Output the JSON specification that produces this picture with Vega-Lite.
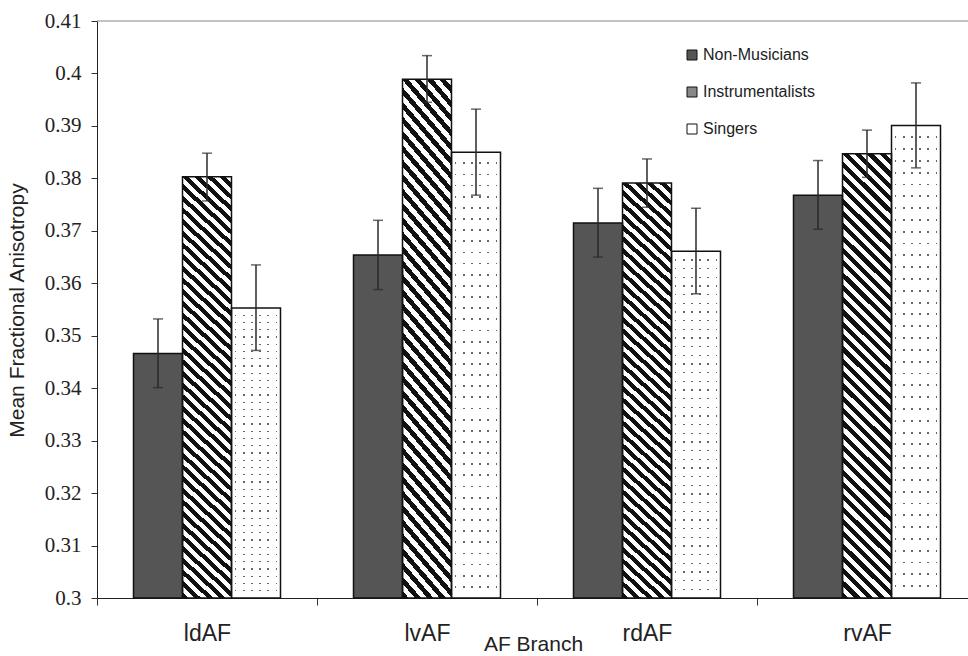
{
  "$schema": "https://vega.github.io/schema/vega-lite/v6.json",
  "width": 871,
  "height": 577,
  "autosize": {"type": "none"},
  "padding": {"left": 97, "top": 21, "right": 0, "bottom": 58},
  "background": "white",
  "config": {"view": {"stroke": null}, "axis": {"grid": false}},
  "data": {
    "values": [
      {"branch": "ldAF", "group": "Non-Musicians", "fa": 0.3466, "lo": 0.3401, "hi": 0.3532},
      {"branch": "ldAF", "group": "Instrumentalists", "fa": 0.3803, "lo": 0.3757, "hi": 0.3848},
      {"branch": "ldAF", "group": "Singers", "fa": 0.3553, "lo": 0.3472, "hi": 0.3635},
      {"branch": "lvAF", "group": "Non-Musicians", "fa": 0.3654, "lo": 0.3588, "hi": 0.3720},
      {"branch": "lvAF", "group": "Instrumentalists", "fa": 0.3989, "lo": 0.3945, "hi": 0.4034},
      {"branch": "lvAF", "group": "Singers", "fa": 0.3850, "lo": 0.3768, "hi": 0.3932},
      {"branch": "rdAF", "group": "Non-Musicians", "fa": 0.3715, "lo": 0.3650, "hi": 0.3781},
      {"branch": "rdAF", "group": "Instrumentalists", "fa": 0.3791, "lo": 0.3745, "hi": 0.3837},
      {"branch": "rdAF", "group": "Singers", "fa": 0.3661, "lo": 0.3580, "hi": 0.3743},
      {"branch": "rvAF", "group": "Non-Musicians", "fa": 0.3768, "lo": 0.3703, "hi": 0.3834},
      {"branch": "rvAF", "group": "Instrumentalists", "fa": 0.3847, "lo": 0.3802, "hi": 0.3892},
      {"branch": "rvAF", "group": "Singers", "fa": 0.3901, "lo": 0.3820, "hi": 0.3982}
    ]
  },
  "layer": [
    {
      "mark": {"type": "bar", "strokeWidth": 0},
      "encoding": {
        "x": {
          "field": "branch", "type": "nominal", "sort": ["ldAF", "lvAF", "rdAF", "rvAF"],
          "scale": {"type": "band", "range": [0, 880], "paddingInner": 0, "paddingOuter": 0},
          "axis": {
            "title": "AF Branch", "labelAngle": 0, "labelFont": "Liberation Sans", "labelFontSize": 23,
            "labelColor": "#222", "labelPadding": 17, "tickSize": 7, "tickColor": "#333", "tickBand": "extent",
            "domainColor": "#222", "titleFont": "Liberation Sans", "titleFontSize": 21, "titleFontWeight": "normal",
            "titleColor": "#222", "titleBaseline": "alphabetic", "titleY": 52, "titleX": 436
          }
        },
        "xOffset": {
          "field": "group", "type": "nominal",
          "scale": {"domain": ["Non-Musicians", "Instrumentalists", "Singers"], "paddingInner": 0, "paddingOuter": 0.745}
        },
        "y": {
          "field": "fa", "type": "quantitative",
          "scale": {"domain": [0.3, 0.41], "nice": false, "zero": false},
          "axis": {
            "title": "Mean Fractional Anisotropy",
            "values": [0.3, 0.31, 0.32, 0.33, 0.34, 0.35, 0.36, 0.37, 0.38, 0.39, 0.4, 0.41],
            "format": ".2~f", "labelFont": "Liberation Serif", "labelFontSize": 21, "labelColor": "#222",
            "labelPadding": 10, "tickSize": 6, "tickColor": "#333", "domainColor": "#222",
            "titleFont": "Liberation Sans", "titleFontSize": 21, "titleFontWeight": "normal", "titleColor": "#222",
            "titleX": -80, "titleY": 289, "titleBaseline": "middle", "titleAngle": -90
          }
        },
        "y2": {"datum": 0.3},
        "fill": {
          "field": "group", "type": "nominal",
          "scale": {
            "domain": ["Non-Musicians", "Instrumentalists", "Singers"],
            "range": ["#555555", "#888888", "#ffffff"]
          },
          "legend": {
            "title": null, "orient": "none", "legendX": 587, "legendY": 26, "symbolType": "square", "symbolSize": 100,
            "symbolStrokeColor": "#111", "symbolStrokeWidth": 1, "labelFont": "Liberation Sans", "labelFontSize": 16,
            "labelColor": "#222", "labelOffset": 3, "rowPadding": 21, "padding": 0,
            "encode": {"symbols": {"update": {"stroke": {"value": "#111"}, "strokeWidth": {"value": 1}}}}
          }
        }
      }
    },
    {
      "transform": [{"filter": "datum.group === 'Instrumentalists'"}],
      "mark": {
        "type": "bar", "strokeWidth": 0,
        "fill": {"gradient": "linear", "x1": 0, "y1": 1, "x2": 0.12, "y2": -0.096, "stops": [
          {"offset": 0, "color": "#111"}, {"offset": 0.0125, "color": "#111"}, {"offset": 0.0125, "color": "#fff"}, {"offset": 0.025, "color": "#fff"},
          {"offset": 0.025, "color": "#111"}, {"offset": 0.0375, "color": "#111"}, {"offset": 0.0375, "color": "#fff"}, {"offset": 0.05, "color": "#fff"},
          {"offset": 0.05, "color": "#111"}, {"offset": 0.0625, "color": "#111"}, {"offset": 0.0625, "color": "#fff"}, {"offset": 0.075, "color": "#fff"},
          {"offset": 0.075, "color": "#111"}, {"offset": 0.0875, "color": "#111"}, {"offset": 0.0875, "color": "#fff"}, {"offset": 0.1, "color": "#fff"},
          {"offset": 0.1, "color": "#111"}, {"offset": 0.1125, "color": "#111"}, {"offset": 0.1125, "color": "#fff"}, {"offset": 0.125, "color": "#fff"},
          {"offset": 0.125, "color": "#111"}, {"offset": 0.1375, "color": "#111"}, {"offset": 0.1375, "color": "#fff"}, {"offset": 0.15, "color": "#fff"},
          {"offset": 0.15, "color": "#111"}, {"offset": 0.1625, "color": "#111"}, {"offset": 0.1625, "color": "#fff"}, {"offset": 0.175, "color": "#fff"},
          {"offset": 0.175, "color": "#111"}, {"offset": 0.1875, "color": "#111"}, {"offset": 0.1875, "color": "#fff"}, {"offset": 0.2, "color": "#fff"},
          {"offset": 0.2, "color": "#111"}, {"offset": 0.2125, "color": "#111"}, {"offset": 0.2125, "color": "#fff"}, {"offset": 0.225, "color": "#fff"},
          {"offset": 0.225, "color": "#111"}, {"offset": 0.2375, "color": "#111"}, {"offset": 0.2375, "color": "#fff"}, {"offset": 0.25, "color": "#fff"},
          {"offset": 0.25, "color": "#111"}, {"offset": 0.2625, "color": "#111"}, {"offset": 0.2625, "color": "#fff"}, {"offset": 0.275, "color": "#fff"},
          {"offset": 0.275, "color": "#111"}, {"offset": 0.2875, "color": "#111"}, {"offset": 0.2875, "color": "#fff"}, {"offset": 0.3, "color": "#fff"},
          {"offset": 0.3, "color": "#111"}, {"offset": 0.3125, "color": "#111"}, {"offset": 0.3125, "color": "#fff"}, {"offset": 0.325, "color": "#fff"},
          {"offset": 0.325, "color": "#111"}, {"offset": 0.3375, "color": "#111"}, {"offset": 0.3375, "color": "#fff"}, {"offset": 0.35, "color": "#fff"},
          {"offset": 0.35, "color": "#111"}, {"offset": 0.3625, "color": "#111"}, {"offset": 0.3625, "color": "#fff"}, {"offset": 0.375, "color": "#fff"},
          {"offset": 0.375, "color": "#111"}, {"offset": 0.3875, "color": "#111"}, {"offset": 0.3875, "color": "#fff"}, {"offset": 0.4, "color": "#fff"},
          {"offset": 0.4, "color": "#111"}, {"offset": 0.4125, "color": "#111"}, {"offset": 0.4125, "color": "#fff"}, {"offset": 0.425, "color": "#fff"},
          {"offset": 0.425, "color": "#111"}, {"offset": 0.4375, "color": "#111"}, {"offset": 0.4375, "color": "#fff"}, {"offset": 0.45, "color": "#fff"},
          {"offset": 0.45, "color": "#111"}, {"offset": 0.4625, "color": "#111"}, {"offset": 0.4625, "color": "#fff"}, {"offset": 0.475, "color": "#fff"},
          {"offset": 0.475, "color": "#111"}, {"offset": 0.4875, "color": "#111"}, {"offset": 0.4875, "color": "#fff"}, {"offset": 0.5, "color": "#fff"},
          {"offset": 0.5, "color": "#111"}, {"offset": 0.5125, "color": "#111"}, {"offset": 0.5125, "color": "#fff"}, {"offset": 0.525, "color": "#fff"},
          {"offset": 0.525, "color": "#111"}, {"offset": 0.5375, "color": "#111"}, {"offset": 0.5375, "color": "#fff"}, {"offset": 0.55, "color": "#fff"},
          {"offset": 0.55, "color": "#111"}, {"offset": 0.5625, "color": "#111"}, {"offset": 0.5625, "color": "#fff"}, {"offset": 0.575, "color": "#fff"},
          {"offset": 0.575, "color": "#111"}, {"offset": 0.5875, "color": "#111"}, {"offset": 0.5875, "color": "#fff"}, {"offset": 0.6, "color": "#fff"},
          {"offset": 0.6, "color": "#111"}, {"offset": 0.6125, "color": "#111"}, {"offset": 0.6125, "color": "#fff"}, {"offset": 0.625, "color": "#fff"},
          {"offset": 0.625, "color": "#111"}, {"offset": 0.6375, "color": "#111"}, {"offset": 0.6375, "color": "#fff"}, {"offset": 0.65, "color": "#fff"},
          {"offset": 0.65, "color": "#111"}, {"offset": 0.6625, "color": "#111"}, {"offset": 0.6625, "color": "#fff"}, {"offset": 0.675, "color": "#fff"},
          {"offset": 0.675, "color": "#111"}, {"offset": 0.6875, "color": "#111"}, {"offset": 0.6875, "color": "#fff"}, {"offset": 0.7, "color": "#fff"},
          {"offset": 0.7, "color": "#111"}, {"offset": 0.7125, "color": "#111"}, {"offset": 0.7125, "color": "#fff"}, {"offset": 0.725, "color": "#fff"},
          {"offset": 0.725, "color": "#111"}, {"offset": 0.7375, "color": "#111"}, {"offset": 0.7375, "color": "#fff"}, {"offset": 0.75, "color": "#fff"},
          {"offset": 0.75, "color": "#111"}, {"offset": 0.7625, "color": "#111"}, {"offset": 0.7625, "color": "#fff"}, {"offset": 0.775, "color": "#fff"},
          {"offset": 0.775, "color": "#111"}, {"offset": 0.7875, "color": "#111"}, {"offset": 0.7875, "color": "#fff"}, {"offset": 0.8, "color": "#fff"},
          {"offset": 0.8, "color": "#111"}, {"offset": 0.8125, "color": "#111"}, {"offset": 0.8125, "color": "#fff"}, {"offset": 0.825, "color": "#fff"},
          {"offset": 0.825, "color": "#111"}, {"offset": 0.8375, "color": "#111"}, {"offset": 0.8375, "color": "#fff"}, {"offset": 0.85, "color": "#fff"},
          {"offset": 0.85, "color": "#111"}, {"offset": 0.8625, "color": "#111"}, {"offset": 0.8625, "color": "#fff"}, {"offset": 0.875, "color": "#fff"},
          {"offset": 0.875, "color": "#111"}, {"offset": 0.8875, "color": "#111"}, {"offset": 0.8875, "color": "#fff"}, {"offset": 0.9, "color": "#fff"},
          {"offset": 0.9, "color": "#111"}, {"offset": 0.9125, "color": "#111"}, {"offset": 0.9125, "color": "#fff"}, {"offset": 0.925, "color": "#fff"},
          {"offset": 0.925, "color": "#111"}, {"offset": 0.9375, "color": "#111"}, {"offset": 0.9375, "color": "#fff"}, {"offset": 0.95, "color": "#fff"},
          {"offset": 0.95, "color": "#111"}, {"offset": 0.9625, "color": "#111"}, {"offset": 0.9625, "color": "#fff"}, {"offset": 0.975, "color": "#fff"},
          {"offset": 0.975, "color": "#111"}, {"offset": 0.9875, "color": "#111"}, {"offset": 0.9875, "color": "#fff"}, {"offset": 1, "color": "#fff"}
        ]}
      },
      "encoding": {
        "x": {"field": "branch", "type": "nominal", "sort": ["ldAF", "lvAF", "rdAF", "rvAF"]},
        "xOffset": {"field": "group", "type": "nominal", "scale": {"domain": ["Non-Musicians", "Instrumentalists", "Singers"]}},
        "y": {"field": "fa", "type": "quantitative"},
        "y2": {"datum": 0.3}
      }
    },
    {
      "transform": [{"filter": "datum.group === 'Singers'"}],
      "mark": {
        "type": "bar", "strokeWidth": 0,
        "fill": {"gradient": "linear", "x1": 0, "y1": 0, "x2": 1, "y2": 0, "stops": [
          {"offset": 0, "color": "#fff"},
          {"offset": 0.067, "color": "#fff"}, {"offset": 0.067, "color": "#666"}, {"offset": 0.1, "color": "#666"}, {"offset": 0.1, "color": "#fff"},
          {"offset": 0.234, "color": "#fff"}, {"offset": 0.234, "color": "#666"}, {"offset": 0.266, "color": "#666"}, {"offset": 0.266, "color": "#fff"},
          {"offset": 0.401, "color": "#fff"}, {"offset": 0.401, "color": "#666"}, {"offset": 0.433, "color": "#666"}, {"offset": 0.433, "color": "#fff"},
          {"offset": 0.567, "color": "#fff"}, {"offset": 0.567, "color": "#666"}, {"offset": 0.599, "color": "#666"}, {"offset": 0.599, "color": "#fff"},
          {"offset": 0.734, "color": "#fff"}, {"offset": 0.734, "color": "#666"}, {"offset": 0.766, "color": "#666"}, {"offset": 0.766, "color": "#fff"},
          {"offset": 0.901, "color": "#fff"}, {"offset": 0.901, "color": "#666"}, {"offset": 0.933, "color": "#666"}, {"offset": 0.933, "color": "#fff"},
          {"offset": 1, "color": "#fff"}
        ]}
      },
      "encoding": {
        "x": {"field": "branch", "type": "nominal", "sort": ["ldAF", "lvAF", "rdAF", "rvAF"]},
        "xOffset": {"field": "group", "type": "nominal", "scale": {"domain": ["Non-Musicians", "Instrumentalists", "Singers"]}},
        "y": {"field": "fa", "type": "quantitative"},
        "y2": {"datum": 0.3}
      }
    },
    {
      "transform": [{"filter": "datum.group === 'Singers'"}],
      "mark": {
        "type": "bar", "strokeWidth": 0,
        "fill": {"gradient": "linear", "x1": 0, "y1": 0, "x2": 0, "y2": 1, "stops": [
          {"offset": 0, "color": "#fff"},
          {"offset": 0.023, "color": "#fff"}, {"offset": 0.023, "color": "rgba(255,255,255,0)"}, {"offset": 0.027, "color": "rgba(255,255,255,0)"}, {"offset": 0.027, "color": "#fff"},
          {"offset": 0.048, "color": "#fff"}, {"offset": 0.048, "color": "rgba(255,255,255,0)"}, {"offset": 0.052, "color": "rgba(255,255,255,0)"}, {"offset": 0.052, "color": "#fff"},
          {"offset": 0.073, "color": "#fff"}, {"offset": 0.073, "color": "rgba(255,255,255,0)"}, {"offset": 0.077, "color": "rgba(255,255,255,0)"}, {"offset": 0.077, "color": "#fff"},
          {"offset": 0.098, "color": "#fff"}, {"offset": 0.098, "color": "rgba(255,255,255,0)"}, {"offset": 0.102, "color": "rgba(255,255,255,0)"}, {"offset": 0.102, "color": "#fff"},
          {"offset": 0.123, "color": "#fff"}, {"offset": 0.123, "color": "rgba(255,255,255,0)"}, {"offset": 0.127, "color": "rgba(255,255,255,0)"}, {"offset": 0.127, "color": "#fff"},
          {"offset": 0.148, "color": "#fff"}, {"offset": 0.148, "color": "rgba(255,255,255,0)"}, {"offset": 0.152, "color": "rgba(255,255,255,0)"}, {"offset": 0.152, "color": "#fff"},
          {"offset": 0.173, "color": "#fff"}, {"offset": 0.173, "color": "rgba(255,255,255,0)"}, {"offset": 0.177, "color": "rgba(255,255,255,0)"}, {"offset": 0.177, "color": "#fff"},
          {"offset": 0.198, "color": "#fff"}, {"offset": 0.198, "color": "rgba(255,255,255,0)"}, {"offset": 0.202, "color": "rgba(255,255,255,0)"}, {"offset": 0.202, "color": "#fff"},
          {"offset": 0.223, "color": "#fff"}, {"offset": 0.223, "color": "rgba(255,255,255,0)"}, {"offset": 0.227, "color": "rgba(255,255,255,0)"}, {"offset": 0.227, "color": "#fff"},
          {"offset": 0.248, "color": "#fff"}, {"offset": 0.248, "color": "rgba(255,255,255,0)"}, {"offset": 0.252, "color": "rgba(255,255,255,0)"}, {"offset": 0.252, "color": "#fff"},
          {"offset": 0.273, "color": "#fff"}, {"offset": 0.273, "color": "rgba(255,255,255,0)"}, {"offset": 0.277, "color": "rgba(255,255,255,0)"}, {"offset": 0.277, "color": "#fff"},
          {"offset": 0.298, "color": "#fff"}, {"offset": 0.298, "color": "rgba(255,255,255,0)"}, {"offset": 0.302, "color": "rgba(255,255,255,0)"}, {"offset": 0.302, "color": "#fff"},
          {"offset": 0.323, "color": "#fff"}, {"offset": 0.323, "color": "rgba(255,255,255,0)"}, {"offset": 0.327, "color": "rgba(255,255,255,0)"}, {"offset": 0.327, "color": "#fff"},
          {"offset": 0.348, "color": "#fff"}, {"offset": 0.348, "color": "rgba(255,255,255,0)"}, {"offset": 0.352, "color": "rgba(255,255,255,0)"}, {"offset": 0.352, "color": "#fff"},
          {"offset": 0.373, "color": "#fff"}, {"offset": 0.373, "color": "rgba(255,255,255,0)"}, {"offset": 0.377, "color": "rgba(255,255,255,0)"}, {"offset": 0.377, "color": "#fff"},
          {"offset": 0.398, "color": "#fff"}, {"offset": 0.398, "color": "rgba(255,255,255,0)"}, {"offset": 0.402, "color": "rgba(255,255,255,0)"}, {"offset": 0.402, "color": "#fff"},
          {"offset": 0.423, "color": "#fff"}, {"offset": 0.423, "color": "rgba(255,255,255,0)"}, {"offset": 0.427, "color": "rgba(255,255,255,0)"}, {"offset": 0.427, "color": "#fff"},
          {"offset": 0.448, "color": "#fff"}, {"offset": 0.448, "color": "rgba(255,255,255,0)"}, {"offset": 0.452, "color": "rgba(255,255,255,0)"}, {"offset": 0.452, "color": "#fff"},
          {"offset": 0.473, "color": "#fff"}, {"offset": 0.473, "color": "rgba(255,255,255,0)"}, {"offset": 0.477, "color": "rgba(255,255,255,0)"}, {"offset": 0.477, "color": "#fff"},
          {"offset": 0.498, "color": "#fff"}, {"offset": 0.498, "color": "rgba(255,255,255,0)"}, {"offset": 0.502, "color": "rgba(255,255,255,0)"}, {"offset": 0.502, "color": "#fff"},
          {"offset": 0.523, "color": "#fff"}, {"offset": 0.523, "color": "rgba(255,255,255,0)"}, {"offset": 0.527, "color": "rgba(255,255,255,0)"}, {"offset": 0.527, "color": "#fff"},
          {"offset": 0.548, "color": "#fff"}, {"offset": 0.548, "color": "rgba(255,255,255,0)"}, {"offset": 0.552, "color": "rgba(255,255,255,0)"}, {"offset": 0.552, "color": "#fff"},
          {"offset": 0.573, "color": "#fff"}, {"offset": 0.573, "color": "rgba(255,255,255,0)"}, {"offset": 0.577, "color": "rgba(255,255,255,0)"}, {"offset": 0.577, "color": "#fff"},
          {"offset": 0.598, "color": "#fff"}, {"offset": 0.598, "color": "rgba(255,255,255,0)"}, {"offset": 0.602, "color": "rgba(255,255,255,0)"}, {"offset": 0.602, "color": "#fff"},
          {"offset": 0.623, "color": "#fff"}, {"offset": 0.623, "color": "rgba(255,255,255,0)"}, {"offset": 0.627, "color": "rgba(255,255,255,0)"}, {"offset": 0.627, "color": "#fff"},
          {"offset": 0.648, "color": "#fff"}, {"offset": 0.648, "color": "rgba(255,255,255,0)"}, {"offset": 0.652, "color": "rgba(255,255,255,0)"}, {"offset": 0.652, "color": "#fff"},
          {"offset": 0.673, "color": "#fff"}, {"offset": 0.673, "color": "rgba(255,255,255,0)"}, {"offset": 0.677, "color": "rgba(255,255,255,0)"}, {"offset": 0.677, "color": "#fff"},
          {"offset": 0.698, "color": "#fff"}, {"offset": 0.698, "color": "rgba(255,255,255,0)"}, {"offset": 0.702, "color": "rgba(255,255,255,0)"}, {"offset": 0.702, "color": "#fff"},
          {"offset": 0.723, "color": "#fff"}, {"offset": 0.723, "color": "rgba(255,255,255,0)"}, {"offset": 0.727, "color": "rgba(255,255,255,0)"}, {"offset": 0.727, "color": "#fff"},
          {"offset": 0.748, "color": "#fff"}, {"offset": 0.748, "color": "rgba(255,255,255,0)"}, {"offset": 0.752, "color": "rgba(255,255,255,0)"}, {"offset": 0.752, "color": "#fff"},
          {"offset": 0.773, "color": "#fff"}, {"offset": 0.773, "color": "rgba(255,255,255,0)"}, {"offset": 0.777, "color": "rgba(255,255,255,0)"}, {"offset": 0.777, "color": "#fff"},
          {"offset": 0.798, "color": "#fff"}, {"offset": 0.798, "color": "rgba(255,255,255,0)"}, {"offset": 0.802, "color": "rgba(255,255,255,0)"}, {"offset": 0.802, "color": "#fff"},
          {"offset": 0.823, "color": "#fff"}, {"offset": 0.823, "color": "rgba(255,255,255,0)"}, {"offset": 0.827, "color": "rgba(255,255,255,0)"}, {"offset": 0.827, "color": "#fff"},
          {"offset": 0.848, "color": "#fff"}, {"offset": 0.848, "color": "rgba(255,255,255,0)"}, {"offset": 0.852, "color": "rgba(255,255,255,0)"}, {"offset": 0.852, "color": "#fff"},
          {"offset": 0.873, "color": "#fff"}, {"offset": 0.873, "color": "rgba(255,255,255,0)"}, {"offset": 0.877, "color": "rgba(255,255,255,0)"}, {"offset": 0.877, "color": "#fff"},
          {"offset": 0.898, "color": "#fff"}, {"offset": 0.898, "color": "rgba(255,255,255,0)"}, {"offset": 0.902, "color": "rgba(255,255,255,0)"}, {"offset": 0.902, "color": "#fff"},
          {"offset": 0.923, "color": "#fff"}, {"offset": 0.923, "color": "rgba(255,255,255,0)"}, {"offset": 0.927, "color": "rgba(255,255,255,0)"}, {"offset": 0.927, "color": "#fff"},
          {"offset": 0.948, "color": "#fff"}, {"offset": 0.948, "color": "rgba(255,255,255,0)"}, {"offset": 0.952, "color": "rgba(255,255,255,0)"}, {"offset": 0.952, "color": "#fff"},
          {"offset": 0.973, "color": "#fff"}, {"offset": 0.973, "color": "rgba(255,255,255,0)"}, {"offset": 0.977, "color": "rgba(255,255,255,0)"}, {"offset": 0.977, "color": "#fff"},
          {"offset": 1, "color": "#fff"}
        ]}
      },
      "encoding": {
        "x": {"field": "branch", "type": "nominal", "sort": ["ldAF", "lvAF", "rdAF", "rvAF"]},
        "xOffset": {"field": "group", "type": "nominal", "scale": {"domain": ["Non-Musicians", "Instrumentalists", "Singers"]}},
        "y": {"field": "fa", "type": "quantitative"},
        "y2": {"datum": 0.3}
      }
    },
    {
      "mark": {"type": "bar", "fill": "transparent", "stroke": "#111", "strokeWidth": 1.5},
      "encoding": {
        "x": {"field": "branch", "type": "nominal", "sort": ["ldAF", "lvAF", "rdAF", "rvAF"]},
        "xOffset": {"field": "group", "type": "nominal", "scale": {"domain": ["Non-Musicians", "Instrumentalists", "Singers"]}},
        "y": {"field": "fa", "type": "quantitative"},
        "y2": {"datum": 0.3}
      }
    },
    {
      "mark": {"type": "rule", "color": "#2a2a2a", "strokeWidth": 1.5},
      "encoding": {
        "x": {"field": "branch", "type": "nominal", "sort": ["ldAF", "lvAF", "rdAF", "rvAF"]},
        "xOffset": {"field": "group", "type": "nominal", "scale": {"domain": ["Non-Musicians", "Instrumentalists", "Singers"]}},
        "y": {"field": "lo", "type": "quantitative"},
        "y2": {"field": "hi"}
      }
    },
    {
      "mark": {"type": "tick", "orient": "horizontal", "size": 10, "thickness": 1.5, "color": "#2a2a2a"},
      "encoding": {
        "x": {"field": "branch", "type": "nominal", "sort": ["ldAF", "lvAF", "rdAF", "rvAF"]},
        "xOffset": {"field": "group", "type": "nominal", "scale": {"domain": ["Non-Musicians", "Instrumentalists", "Singers"]}},
        "y": {"field": "hi", "type": "quantitative"}
      }
    },
    {
      "mark": {"type": "tick", "orient": "horizontal", "size": 10, "thickness": 1.5, "color": "#2a2a2a"},
      "encoding": {
        "x": {"field": "branch", "type": "nominal", "sort": ["ldAF", "lvAF", "rdAF", "rvAF"]},
        "xOffset": {"field": "group", "type": "nominal", "scale": {"domain": ["Non-Musicians", "Instrumentalists", "Singers"]}},
        "y": {"field": "lo", "type": "quantitative"}
      }
    },
    {
      "data": {"values": [{}]},
      "mark": {"type": "rule", "color": "#888", "strokeWidth": 1},
      "encoding": {"y": {"datum": 0.41}}
    }
  ]
}
